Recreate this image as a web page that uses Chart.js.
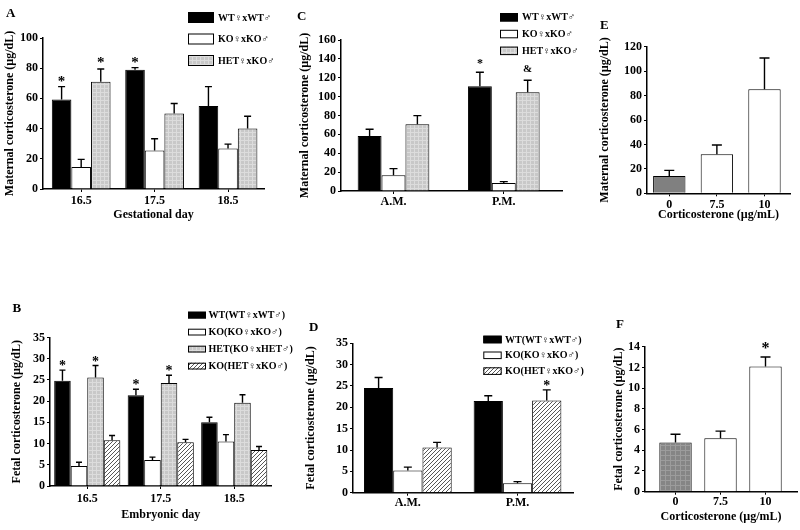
<!DOCTYPE html>
<html><head><meta charset="utf-8">
<script src="https://cdn.jsdelivr.net/npm/chart.js@4.4.0/dist/chart.umd.min.js"></script>
<style>
html,body{margin:0;padding:0;background:#fff;}
#wrap{position:relative;width:800px;height:530px;overflow:hidden;background:#fff;}
canvas{position:absolute;}
</style></head><body><div id="wrap">
<canvas id="cA" width="300" height="228" style="left:0px;top:0px"></canvas>
<canvas id="cC" width="305" height="228" style="left:290px;top:0px"></canvas>
<canvas id="cE" width="205" height="228" style="left:595px;top:0px"></canvas>
<canvas id="cB" width="300" height="240" style="left:0px;top:290px"></canvas>
<canvas id="cD" width="300" height="240" style="left:300px;top:290px"></canvas>
<canvas id="cF" width="200" height="240" style="left:600px;top:290px"></canvas>
</div>
<script>
// ---------------- DATA ----------------
const dayLabels  = ['16.5', '17.5', '18.5'];
const timeLabels = ['A.M.', 'P.M.'];
const doseLabels = ['0', '7.5', '10'];

// Panel A – maternal corticosterone (µg/dL) by gestational day
const aWT = [59.3, 79.0, 55.0];   const aWTerr = [8.5, 1.4, 12.8];
const aKO = [14.5, 25.5, 26.9];   const aKOerr = [5.1, 7.8, 2.8];
const aHET = [71.1, 50.0, 40.0];  const aHETerr = [8.4, 6.6, 8.2];

// Panel B – fetal corticosterone (µg/dL) by embryonic day
const bWT = [24.8, 21.4, 15.0];   const bWTerr = [2.5, 1.4, 1.2];
const bKO = [4.7, 6.1, 10.5];     const bKOerr = [0.9, 0.7, 1.6];
const bHET = [25.6, 24.3, 19.6];  const bHETerr = [2.8, 1.8, 1.9];
const bKOH = [10.8, 10.3, 8.5];   const bKOHerr = [1.1, 0.7, 0.8];

// Panel C – maternal corticosterone, A.M. / P.M.
const cWT = [58.3, 111.0];  const cWTerr = [7.1, 14.8];
const cKO = [16.6, 8.5];    const cKOerr = [7.1, 1.4];
const cHET = [70.7, 104.6]; const cHETerr = [9.2, 12.7];

// Panel D – fetal corticosterone, A.M. / P.M.
const dWT = [24.5, 21.5];   const dWTerr = [2.5, 1.2];
const dKO = [5.2, 2.2];     const dKOerr = [0.8, 0.4];
const dKOH = [10.6, 21.6];  const dKOHerr = [1.2, 2.5];

// Panel E – maternal corticosterone vs dose
const eVals = [14.2, 31.9, 85.1];  const eErr = [4.6, 7.6, 25.6];
// Panel F – fetal corticosterone vs dose
const fVals = [4.75, 5.15, 12.1];  const fErr = [0.8, 0.7, 0.9];

const legA = ['WT\u2640xWT\u2642', 'KO\u2640xKO\u2642', 'HET\u2640xKO\u2642'];
const legB = ['WT(WT\u2640xWT\u2642)', 'KO(KO\u2640xKO\u2642)', 'HET(KO\u2640xHET\u2642)', 'KO(HET\u2640xKO\u2642)'];
const legD = ['WT(WT\u2640xWT\u2642)', 'KO(KO\u2640xKO\u2642)', 'KO(HET\u2640xKO\u2642)'];

// ---------------- STYLE ----------------
const FONT = '"Liberation Serif", "Times New Roman", serif';
Chart.defaults.font.family = FONT;
Chart.defaults.font.weight = 'bold';
Chart.defaults.font.size = 12;
Chart.defaults.color = '#000';

function makePattern(kind) {
  const c = document.createElement('canvas');
  const x = c.getContext('2d');
  if (kind === 'grid') {
    c.width = 4; c.height = 4;
    x.fillStyle = '#c8c8c8'; x.fillRect(0, 0, 4, 4);
    x.fillStyle = '#dcdcdc'; x.fillRect(0, 0, 4, 1); x.fillRect(0, 0, 1, 4);
  } else if (kind === 'darkgrid') {
    c.width = 5; c.height = 5;
    x.fillStyle = '#858585'; x.fillRect(0, 0, 5, 5);
    x.fillStyle = '#9c9c9c'; x.fillRect(0, 0, 5, 1); x.fillRect(0, 0, 1, 5);
  } else {
    c.width = 4; c.height = 4;
    x.fillStyle = '#fff'; x.fillRect(0, 0, 4, 4);
    x.strokeStyle = '#444'; x.lineWidth = 0.9;
    x.beginPath();
    x.moveTo(0, 4); x.lineTo(4, 0);
    x.moveTo(-1, 1); x.lineTo(1, -1);
    x.moveTo(3, 5); x.lineTo(5, 3);
    x.stroke();
  }
  return x.createPattern(c, 'repeat');
}
const BLACK = '#000000', WHITE = '#ffffff';
const GRID = makePattern('grid'), DARK = makePattern('darkgrid'), HATCH = makePattern('hatch');

const decor = {
  id: 'decor',
  afterDatasetsDraw(chart, args, opt) {
    const ctx = chart.ctx, ys = chart.scales.y;
    ctx.save();
    ctx.strokeStyle = '#000'; ctx.lineWidth = opt.errW || 1.4;
    chart.data.datasets.forEach((ds, di) => {
      chart.getDatasetMeta(di).data.forEach((bar, i) => {
        const top = ys.getPixelForValue(ds.data[i].y + ds.err[i]);
        ctx.beginPath();
        ctx.moveTo(bar.x, bar.y); ctx.lineTo(bar.x, top);
        ctx.moveTo(bar.x - opt.cap, top); ctx.lineTo(bar.x + opt.cap, top);
        ctx.stroke();
      });
    });
    (opt.marks || []).forEach(m => {
      const ds = chart.data.datasets[m.ds];
      const bar = chart.getDatasetMeta(m.ds).data[m.i];
      const top = ys.getPixelForValue(ds.data[m.i].y + ds.err[m.i]);
      ctx.font = 'bold ' + m.size + 'px ' + FONT;
      ctx.fillStyle = '#000'; ctx.textAlign = 'center'; ctx.textBaseline = 'alphabetic';
      ctx.fillText(m.text, bar.x, top - m.lift);
    });
    ctx.restore();
  },
  afterDraw(chart, args, opt) {
    const ctx = chart.ctx;
    ctx.save();
    const L = opt.legend;
    if (L) {
      chart.data.datasets.forEach((ds, k) => {
        const y = L.y + k * L.step;
        ctx.fillStyle = ds.legendFill || ds.backgroundColor;
        ctx.fillRect(L.x, y, L.w, L.h);
        ctx.strokeStyle = '#000'; ctx.lineWidth = 1;
        ctx.strokeRect(L.x + 0.5, y + 0.5, L.w - 1, L.h - 1);
        ctx.fillStyle = '#000';
        ctx.font = 'bold ' + L.font + 'px ' + FONT;
        ctx.textAlign = 'left'; ctx.textBaseline = 'middle';
        ctx.fillText(ds.label, L.tx, y + L.h / 2 + 0.5);
      });
    }
    if (opt.letter) {
      ctx.fillStyle = '#000';
      ctx.font = 'bold 13px ' + FONT;
      ctx.textAlign = 'left'; ctx.textBaseline = 'alphabetic';
      ctx.fillText(opt.letter.t, opt.letter.x, opt.letter.y);
    }
    ctx.restore();
  }
};

function panel(id, o) {
  new Chart(document.getElementById(id), {
    type: 'bar',
    data: {
      datasets: o.series.map(s => ({
        label: s.label,
        data: s.values.map((v, i) => ({ x: i, y: v })),
        err: s.err,
        backgroundColor: s.fill,
        legendFill: s.legendFill,
        borderColor: '#000',
        borderWidth: 1,
        borderSkipped: 'start',
        categoryPercentage: o.catPct,
        barPercentage: 1
      }))
    },
    options: {
      responsive: false,
      animation: false,
      events: [],
      layout: { padding: o.pad },
      plugins: { legend: { display: false }, tooltip: { enabled: false }, decor: o.decor },
      scales: {
        x: {
          type: 'linear', min: o.xMin, max: o.xMax, offset: false,
          afterBuildTicks: a => { a.ticks = o.labels.map((_, i) => ({ value: i })); },
          afterFit: a => { a.height = o.xH; },
          ticks: { callback: v => o.labels[v], padding: o.xTickPad, maxRotation: 0, autoSkip: false, font: { size: o.tickSize || 12 } },
          grid: { display: true, drawOnChartArea: false, drawTicks: true, tickLength: 3, color: '#000', offset: false },
          border: { display: true, color: '#000', width: 1.5 },
          title: o.xTitle ? { display: true, text: o.xTitle, font: { size: 12 }, padding: { top: 0, bottom: o.xTitlePad } } : { display: false }
        },
        y: {
          min: 0, max: o.yMax,
          afterFit: a => { a.width = o.yW; },
          ticks: { stepSize: o.yStep, padding: 2, font: { size: o.tickSize || 12 } },
          grid: { display: true, drawOnChartArea: false, drawTicks: true, tickLength: 3, color: '#000' },
          border: { display: true, color: '#000', width: 1.5 },
          title: { display: true, text: o.yTitle, font: { size: 12 }, padding: { top: o.yTitlePad, bottom: 0 } }
        }
      }
    },
    plugins: [decor]
  });
}

const matTitle = 'Maternal corticosterone (\u00b5g/dL)';
const fetTitle = 'Fetal corticosterone (\u00b5g/dL)';
const doseTitle = 'Corticosterone (\u00b5g/mL)';

// A
panel('cA', {
  labels: dayLabels, xMin: -0.52, xMax: 2.49, catPct: 0.80,
  pad: { top: 38, right: 36, left: 0, bottom: 0 }, yW: 43, xH: 39, xTickPad: 2,
  yMax: 100, yStep: 20, yTitle: matTitle, yTitlePad: 3, xTitle: 'Gestational day', xTitlePad: 6,
  series: [
    { label: legA[0], values: aWT, err: aWTerr, fill: BLACK },
    { label: legA[1], values: aKO, err: aKOerr, fill: WHITE },
    { label: legA[2], values: aHET, err: aHETerr, fill: GRID }
  ],
  decor: {
    cap: 3.5,
    legend: { x: 188, y: 12, w: 26, h: 11, step: 21.5, tx: 218, font: 10 },
    letter: { t: 'A', x: 6, y: 17 },
    marks: [{ ds: 0, i: 0, text: '*', size: 15, lift: 1 }, { ds: 2, i: 0, text: '*', size: 15, lift: 2 }, { ds: 0, i: 1, text: '*', size: 15, lift: 1 }]
  }
});

// C
panel('cC', {
  labels: timeLabels, xMin: -0.476, xMax: 1.528, catPct: 0.65,
  pad: { top: 40, right: 33, left: 0, bottom: 0 }, yW: 51, xH: 37, xTickPad: 1,
  yMax: 160, yStep: 20, yTitle: matTitle, yTitlePad: 8, xTitle: null,
  series: [
    { label: legA[0], values: cWT, err: cWTerr, fill: BLACK },
    { label: legA[1], values: cKO, err: cKOerr, fill: WHITE },
    { label: legA[2], values: cHET, err: cHETerr, fill: GRID }
  ],
  decor: {
    cap: 4,
    legend: { x: 210, y: 13, w: 18, h: 8.5, step: 16.8, tx: 232, font: 10 },
    letter: { t: 'C', x: 7, y: 19.5 },
    marks: [{ ds: 0, i: 1, text: '*', size: 12, lift: 5 }, { ds: 2, i: 1, text: '&', size: 11, lift: 8 }]
  }
});

// E
panel('cE', {
  labels: doseLabels, xMin: -0.468, xMax: 2.536, catPct: 0.68,
  pad: { top: 46.7, right: 10, left: 0, bottom: 0 }, yW: 52, xH: 34.7, xTickPad: 1,
  yMax: 120, yStep: 20, yTitle: matTitle, yTitlePad: 3, xTitle: doseTitle, xTitlePad: 6,
  series: [
    { label: 'E', values: eVals, err: eErr, fill: ['#808080', WHITE, WHITE] }
  ],
  decor: { cap: 5, letter: { t: 'E', x: 5, y: 28.5 } }
});

// B
panel('cB', {
  labels: dayLabels, xMin: -0.507, xMax: 2.51, catPct: 0.90,
  pad: { top: 47.5, right: 28.3, left: 0, bottom: 0 }, yW: 50, xH: 44, xTickPad: 3,
  yMax: 35, yStep: 5, yTitle: fetTitle, yTitlePad: 9.5, xTitle: 'Embryonic day', xTitlePad: 8,
  series: [
    { label: legB[0], values: bWT, err: bWTerr, fill: BLACK },
    { label: legB[1], values: bKO, err: bKOerr, fill: WHITE },
    { label: legB[2], values: bHET, err: bHETerr, fill: GRID },
    { label: legB[3], values: bKOH, err: bKOHerr, fill: HATCH }
  ],
  decor: {
    cap: 3,
    legend: { x: 188, y: 21.7, w: 18, h: 6.8, step: 17, tx: 208.5, font: 10 },
    letter: { t: 'B', x: 12.5, y: 22 },
    marks: [{ ds: 0, i: 0, text: '*', size: 14, lift: 0 }, { ds: 2, i: 0, text: '*', size: 14, lift: 0 },
            { ds: 0, i: 1, text: '*', size: 14, lift: 0 }, { ds: 2, i: 1, text: '*', size: 14, lift: 0 }]
  }
});

// D
panel('cD', {
  labels: timeLabels, xMin: -0.5, xMax: 1.506, catPct: 0.80,
  pad: { top: 53.3, right: 27, left: 0, bottom: 0 }, yW: 53, xH: 37.3, xTickPad: 0,
  yMax: 35, yStep: 5, yTitle: fetTitle, yTitlePad: 4, xTitle: null,
  series: [
    { label: legD[0], values: dWT, err: dWTerr, fill: BLACK },
    { label: legD[1], values: dKO, err: dKOerr, fill: WHITE },
    { label: legD[2], values: dKOH, err: dKOHerr, fill: HATCH }
  ],
  decor: {
    cap: 4,
    legend: { x: 183.3, y: 45.7, w: 18.4, h: 7.6, step: 15.8, tx: 205, font: 10 },
    letter: { t: 'D', x: 9, y: 41 },
    marks: [{ ds: 2, i: 1, text: '*', size: 14, lift: -0.5 }]
  }
});

// F
panel('cF', {
  labels: doseLabels, xMin: -0.678, xMax: 2.7, catPct: 0.72,
  pad: { top: 56.7, right: 3, left: 0, bottom: 0 }, yW: 45, xH: 38.3, xTickPad: 0,
  yMax: 14, yStep: 2, yTitle: fetTitle, yTitlePad: 12, xTitle: doseTitle, xTitlePad: 6,
  series: [
    { label: 'F', values: fVals, err: fErr, fill: [DARK, WHITE, WHITE] }
  ],
  decor: {
    cap: 5, letter: { t: 'F', x: 16, y: 37.5 },
    marks: [{ ds: 0, i: 2, text: '*', size: 16, lift: 4 }]
  }
});
</script>
</body></html>
